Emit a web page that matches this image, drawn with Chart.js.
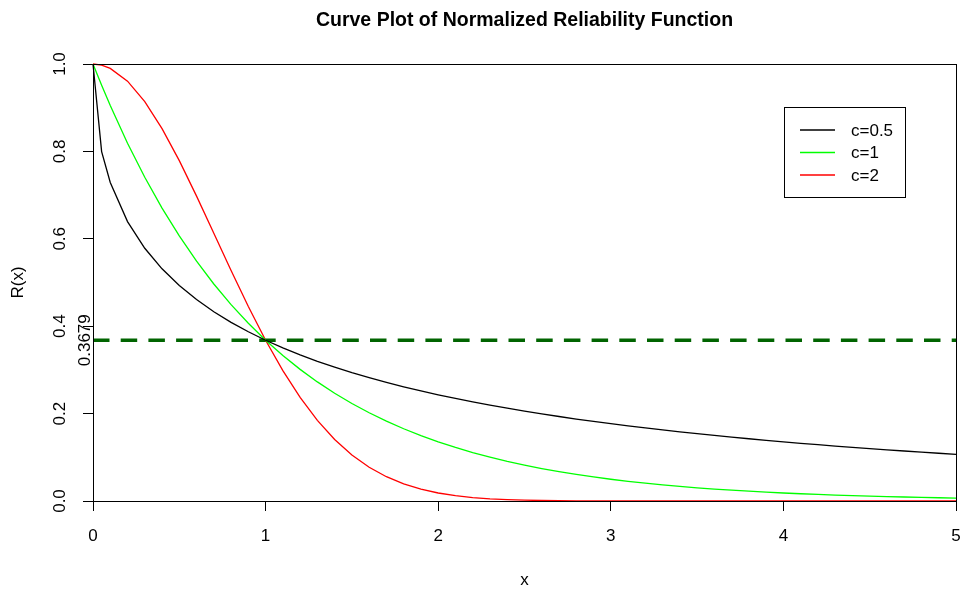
<!DOCTYPE html>
<html>
<head>
<meta charset="utf-8">
<script src="https://cdn.jsdelivr.net/npm/chart.js@4"></script>
<style>
  html, body { margin: 0; padding: 0; background: #fff; }
  #wrap { width: 966px; height: 592px; }
</style>
</head>
<body>
<div id="wrap"><canvas id="chart" width="966" height="592"></canvas></div>
<script>
// x positions of the plotted points
const xValues = [0, 0.05, 0.1, 0.2, 0.3, 0.4, 0.5, 0.6, 0.7, 0.8, 0.9,
  1.0, 1.1, 1.2, 1.3, 1.4, 1.5, 1.6, 1.7, 1.8, 1.9,
  2.0, 2.1, 2.2, 2.3, 2.4, 2.5, 2.6, 2.7, 2.8, 2.9,
  3.0, 3.1, 3.2, 3.3, 3.4, 3.5, 3.6, 3.7, 3.8, 3.9,
  4.0, 4.1, 4.2, 4.3, 4.4, 4.5, 4.6, 4.7, 4.8, 4.9, 5.0];

// R(x) values
const rHalf = [1, 0.7996, 0.7288, 0.6394, 0.5783, 0.5313, 0.4931, 0.4609, 0.4332, 0.4088, 0.3873,
  0.3679, 0.3504, 0.3344, 0.3197, 0.3063, 0.2938, 0.2823, 0.2715, 0.2614, 0.2520,
  0.2431, 0.2348, 0.2269, 0.2195, 0.2124, 0.2057, 0.1994, 0.1934, 0.1876, 0.1822,
  0.1769, 0.1719, 0.1671, 0.1626, 0.1582, 0.1540, 0.1500, 0.1461, 0.1424, 0.1388,
  0.1353, 0.1320, 0.1288, 0.1257, 0.1227, 0.1199, 0.1171, 0.1144, 0.1118, 0.1093, 0.1069];
const rOne = [1, 0.9512, 0.9048, 0.8187, 0.7408, 0.6703, 0.6065, 0.5488, 0.4966, 0.4493, 0.4066,
  0.3679, 0.3329, 0.3012, 0.2725, 0.2466, 0.2231, 0.2019, 0.1827, 0.1653, 0.1496,
  0.1353, 0.1225, 0.1108, 0.1003, 0.0907, 0.0821, 0.0743, 0.0672, 0.0608, 0.0550,
  0.0498, 0.0450, 0.0408, 0.0369, 0.0334, 0.0302, 0.0273, 0.0247, 0.0224, 0.0202,
  0.0183, 0.0166, 0.0150, 0.0136, 0.0123, 0.0111, 0.0101, 0.0091, 0.0082, 0.0074, 0.0067];
const rTwo = [1, 0.9975, 0.9900, 0.9608, 0.9139, 0.8521, 0.7788, 0.6977, 0.6126, 0.5273, 0.4449,
  0.3679, 0.2982, 0.2369, 0.1845, 0.1409, 0.1054, 0.0773, 0.0556, 0.0392, 0.0271,
  0.0183, 0.0122, 0.0079, 0.0050, 0.0032, 0.0019, 0.0012, 0.0007, 0.0004, 0.0002,
  0.0001, 0, 0, 0, 0, 0, 0, 0, 0, 0,
  0, 0, 0, 0, 0, 0, 0, 0, 0, 0, 0];

const seriesLabels = ['c=0.5', 'c=1', 'c=2'];
const seriesColors = ['#000000', '#00ff00', '#ff0000'];

// reference level and ticks
const refLevel = 0.3679;
const refX = [0, 5];
const yTicks = [0, 0.2, 0.4, 0.6, 0.8, 1.0];
const yTickLabels = ['0.0', '0.2', '0.4', '0.6', '0.8', '1.0'];

const FONT = '"Liberation Sans", Arial, sans-serif';

function toPoints(ys) {
  return xValues.map((x, i) => ({ x: x, y: ys[i] }));
}

// Draws box, titles, rotated y labels and the legend
const decorations = {
  id: 'decorations',
  afterDraw(chart) {
    const ctx = chart.ctx;
    const a = chart.chartArea;
    const ys = chart.scales.y;
    ctx.save();

    ctx.strokeStyle = '#000';
    ctx.lineWidth = 1;
    ctx.strokeRect(Math.round(a.left) + 0.5, Math.round(a.top) + 0.5,
      Math.round(a.right - a.left), Math.round(a.bottom - a.top));

    ctx.fillStyle = '#000';
    ctx.textAlign = 'center';
    ctx.textBaseline = 'middle';
    ctx.font = 'bold 19.5px ' + FONT;
    ctx.fillText('Curve Plot of Normalized Reliability Function', (a.left + a.right) / 2, 21);

    ctx.font = '17px ' + FONT;
    ctx.fillText('x', (a.left + a.right) / 2, 580);

    // rotated y tick labels
    yTicks.forEach((v, i) => {
      ctx.save();
      ctx.translate(60, ys.getPixelForValue(v));
      ctx.rotate(-Math.PI / 2);
      ctx.fillText(yTickLabels[i], 0, 0);
      ctx.restore();
    });

    ctx.save();
    ctx.translate(85, ys.getPixelForValue(refLevel));
    ctx.rotate(-Math.PI / 2);
    ctx.fillText(refLevel.toFixed(4), 0, 0);
    ctx.restore();

    ctx.save();
    ctx.translate(18, (a.top + a.bottom) / 2);
    ctx.rotate(-Math.PI / 2);
    ctx.fillText('R(x)', 0, 0);
    ctx.restore();

    // legend
    const lx = 784, ly = 107, lw = 121, lh = 90;
    ctx.strokeStyle = '#000';
    ctx.strokeRect(lx + 0.5, ly + 0.5, lw, lh);
    ctx.font = '17px ' + FONT;
    ctx.textAlign = 'left';
    seriesLabels.forEach((lab, i) => {
      const yy = ly + 23 + i * 22.5;
      ctx.strokeStyle = seriesColors[i];
      ctx.lineWidth = 1.3;
      ctx.beginPath();
      ctx.moveTo(lx + 16, yy);
      ctx.lineTo(lx + 51, yy);
      ctx.stroke();
      ctx.fillText(lab, lx + 67, yy + 1);
    });

    ctx.restore();
  }
};

new Chart(document.getElementById('chart'), {
  type: 'line',
  data: {
    datasets: [
      { label: seriesLabels[0], data: toPoints(rHalf), borderColor: seriesColors[0], borderWidth: 1.3, pointRadius: 0, tension: 0, clip: 3 },
      { label: seriesLabels[1], data: toPoints(rOne), borderColor: seriesColors[1], borderWidth: 1.3, pointRadius: 0, tension: 0, clip: 3 },
      { label: seriesLabels[2], data: toPoints(rTwo), borderColor: seriesColors[2], borderWidth: 1.3, pointRadius: 0, tension: 0, clip: 3 },
      { label: 'ref', data: refX.map(x => ({ x: x, y: refLevel })), borderColor: '#006400', borderWidth: 3.5,
        borderDash: [16.5, 11.2], pointRadius: 0, tension: 0, clip: 3 }
    ]
  },
  options: {
    responsive: false,
    animation: false,
    layout: { padding: { top: 64, right: 10, left: 0, bottom: 0 } },
    plugins: {
      legend: { display: false },
      title: { display: false },
      tooltip: { enabled: false }
    },
    scales: {
      x: {
        type: 'linear',
        min: 0,
        max: 5,
        afterFit: s => { s.height = 91; s.paddingLeft = 0; s.paddingRight = 0; },
        border: { display: false },
        grid: { drawOnChartArea: false, tickLength: 10, color: '#000' },
        ticks: { stepSize: 1, color: '#000', padding: 15, font: { family: FONT, size: 17 }, maxRotation: 0 }
      },
      y: {
        type: 'linear',
        min: 0,
        max: 1,
        afterFit: s => { s.width = 93; s.paddingTop = 0; s.paddingBottom = 0; },
        border: { display: false },
        grid: { drawOnChartArea: false, tickLength: 10, color: '#000' },
        ticks: { stepSize: 0.2, display: false }
      }
    }
  },
  plugins: [decorations]
});
</script>
</body>
</html>
